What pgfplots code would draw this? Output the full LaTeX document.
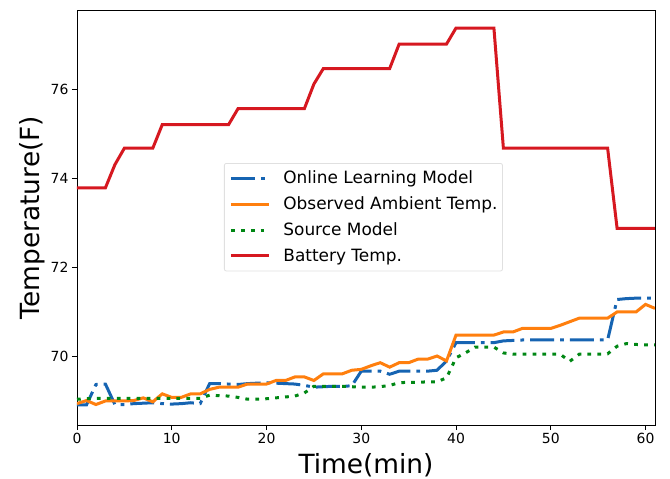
\documentclass[border=0pt]{standalone}
\usepackage{pgfplots}
\pgfplotsset{compat=1.18}
\usepackage{fontspec}
\setmainfont{DejaVu Sans}
\definecolor{cblue}{RGB}{22,100,178}
\definecolor{corange}{RGB}{255,127,14}
\definecolor{cgreen}{RGB}{0,135,20}
\definecolor{cred}{RGB}{214,24,32}
\begin{document}
\begin{tikzpicture}
\begin{axis}[
    at={(0,0)}, anchor=south west,
    width=578bp, height=415bp,
    scale only axis,
    xmin=0, xmax=61,
    ymin=68.45, ymax=77.775,
    xtick={0,10,20,30,40,50,60},
    ytick={70,72,74,76},
    tick align=outside,
    tick pos=left,
    major tick length=5bp,
    tick style={black, line width=0.9pt},
    axis line style={line width=0.9pt},
    ticklabel style={font=\fontsize{14}{16}\selectfont},
    /pgf/number format/assume math mode=true,
    xlabel={Time(min)},
    ylabel={Temperature(F)},
    label style={font=\fontsize{26.5}{30}\selectfont},
    xlabel style={at={(axis description cs:0.5,-0.1157)}, anchor=base},
    ylabel style={at={(axis description cs:-0.0657,0.5)}, anchor=base},
    legend cell align=left,
    legend image code/.code={\draw[#1] (0bp,0bp) -- (38bp,0bp);},
    legend style={at={(0.2543,0.6313)}, anchor=north west,
        font=\fontsize{17}{20}\selectfont, draw=black!12, line width=0.8pt,
        rounded corners=2bp,
        inner xsep=5bp, inner ysep=4.5bp,
        row sep=4.2bp, column sep=13bp,
        nodes={inner sep=0pt, text height=16bp, text depth=5.5bp}},
]
\addplot[cblue, line width=3bp, dash pattern=on 24bp off 6bp on 3.75bp off 6bp] coordinates {
(0,68.9)(1,68.9)(2,69.36)(3,69.37)(4,68.91)(5,68.91)(6,68.93)(7,68.94)(8,68.95)(9,68.93)(10,68.92)(11,68.93)(12,68.95)(13,68.93)(14,69.38)(15,69.38)(16,69.37)(17,69.36)(18,69.38)(19,69.39)(20,69.4)(21,69.39)(22,69.38)(23,69.37)(24,69.34)(25,69.3)(26,69.31)(27,69.32)(28,69.32)(29,69.33)(30,69.66)(31,69.66)(32,69.66)(33,69.59)(34,69.66)(35,69.66)(36,69.66)(37,69.66)(38,69.68)(39,69.89)(40,70.3)(41,70.3)(42,70.3)(43,70.3)(44,70.3)(45,70.34)(46,70.35)(47,70.36)(48,70.36)(49,70.36)(50,70.36)(51,70.36)(52,70.36)(53,70.36)(54,70.36)(55,70.36)(56,70.36)(57,71.27)(58,71.29)(59,71.3)(60,71.3)(61,71.3)
};
\addlegendentry{Online Learning Model}
\addplot[corange, line width=3bp] coordinates {
(0,68.93)(1,69.0)(2,68.91)(3,68.99)(4,68.99)(5,68.99)(6,69.0)(7,69.06)(8,68.97)(9,69.15)(10,69.07)(11,69.07)(12,69.15)(13,69.15)(14,69.25)(15,69.3)(16,69.3)(17,69.3)(18,69.37)(19,69.37)(20,69.37)(21,69.45)(22,69.45)(23,69.53)(24,69.53)(25,69.45)(26,69.6)(27,69.6)(28,69.6)(29,69.68)(30,69.7)(31,69.78)(32,69.85)(33,69.75)(34,69.85)(35,69.85)(36,69.93)(37,69.93)(38,70.0)(39,69.89)(40,70.47)(41,70.47)(42,70.47)(43,70.47)(44,70.47)(45,70.54)(46,70.54)(47,70.62)(48,70.62)(49,70.62)(50,70.62)(51,70.69)(52,70.77)(53,70.85)(54,70.85)(55,70.85)(56,70.85)(57,70.99)(58,70.99)(59,70.99)(60,71.16)(61,71.07)
};
\addlegendentry{Observed Ambient Temp.}
\addplot[cgreen, line width=3bp, dash pattern=on 3.75bp off 6.2bp] coordinates {
(0,69.03)(1,69.04)(2,69.05)(3,69.05)(4,69.05)(5,69.05)(6,69.05)(7,69.05)(8,69.05)(9,69.05)(10,69.05)(11,69.05)(12,69.05)(13,69.05)(14,69.12)(15,69.11)(16,69.1)(17,69.07)(18,69.03)(19,69.03)(20,69.04)(21,69.06)(22,69.08)(23,69.1)(24,69.17)(25,69.32)(26,69.32)(27,69.32)(28,69.32)(29,69.31)(30,69.3)(31,69.3)(32,69.31)(33,69.34)(34,69.4)(35,69.41)(36,69.41)(37,69.42)(38,69.42)(39,69.51)(40,69.96)(41,70.07)(42,70.2)(43,70.2)(44,70.2)(45,70.07)(46,70.04)(47,70.04)(48,70.04)(49,70.04)(50,70.04)(51,70.04)(52,69.88)(53,70.04)(54,70.04)(55,70.04)(56,70.05)(57,70.22)(58,70.28)(59,70.26)(60,70.25)(61,70.25)
};
\addlegendentry{Source Model}
\addplot[cred, line width=3bp] coordinates {
(0,73.78)(3,73.78)(4,74.3)(5,74.67)(8,74.67)(9,75.2)(16,75.2)(17,75.56)(24,75.56)(25,76.11)(26,76.46)(33,76.46)(34,77.01)(39,77.01)(40,77.37)(44,77.37)(45,74.67)(56,74.67)(57,72.87)(61,72.87)
};
\addlegendentry{Battery Temp.}
\end{axis}
\pgfresetboundingbox
\useasboundingbox (-77bp,-54bp) rectangle (593bp,425bp);
\end{tikzpicture}
\end{document}
